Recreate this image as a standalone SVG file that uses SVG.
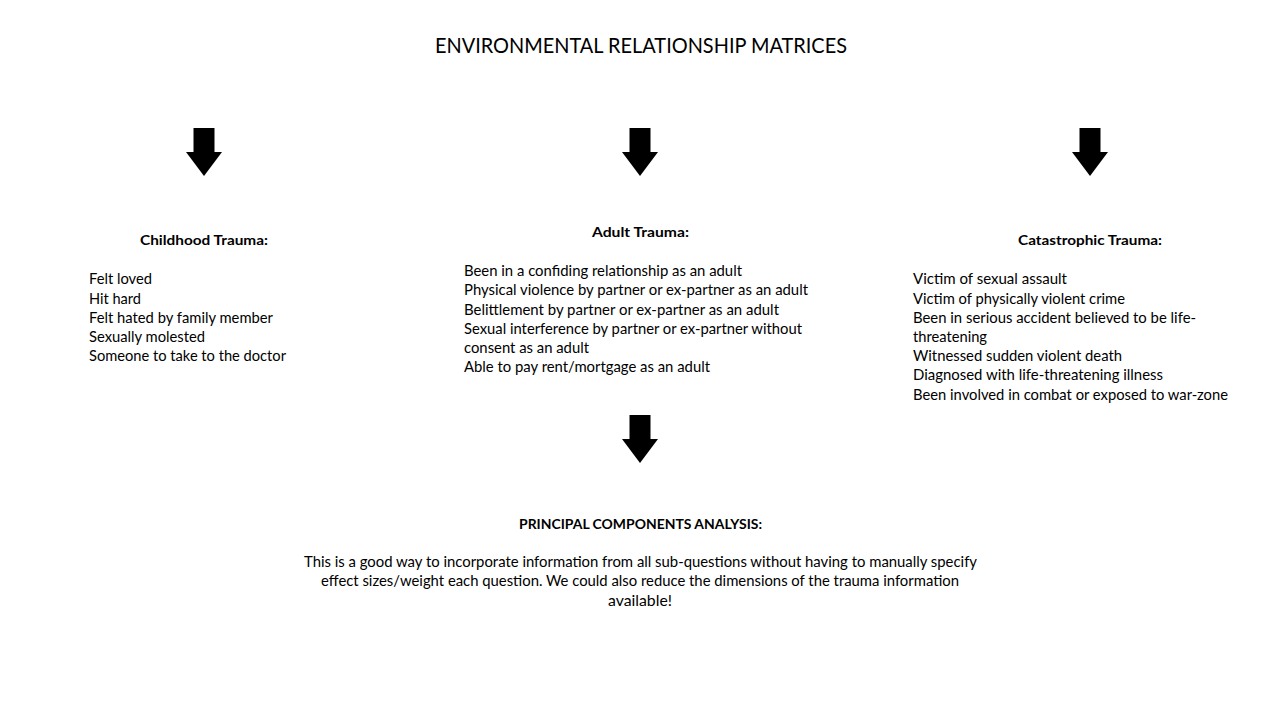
<svg xmlns="http://www.w3.org/2000/svg" xmlns:xlink="http://www.w3.org/1999/xlink" width="1280" height="720" viewBox="0 0 1280 720">
<style>
text{font-family:Lato,"Liberation Sans","DejaVu Sans",sans-serif;fill:#000}
.t{font-size:22px}
.h{font-size:14px;font-weight:bold}
.b{font-size:15px}
</style>
<defs>
<path id="arr" d="M-10.5,0 H10.5 V24 H18 L0,48 L-18,24 H-10.5 Z" fill="#000"/>
</defs>
<rect width="1280" height="720" fill="#fff"/>
<g id="title">
<text class="t" x="435" y="53" textLength="412" lengthAdjust="spacingAndGlyphs">ENVIRONMENTAL RELATIONSHIP MATRICES</text>
</g>
<g id="connectors">
<use xlink:href="#arr" x="204" y="128"/>
<use xlink:href="#arr" x="640" y="128"/>
<use xlink:href="#arr" x="1090" y="128"/>
<use xlink:href="#arr" x="640" y="415"/>
</g>
<g id="childhood">
<text class="h" x="140" y="245" textLength="128" lengthAdjust="spacingAndGlyphs">Childhood Trauma:</text>
<text class="b" x="89" y="284" textLength="63" lengthAdjust="spacingAndGlyphs">Felt loved</text>
<text class="b" x="89" y="304" textLength="52" lengthAdjust="spacingAndGlyphs">Hit hard</text>
<text class="b" x="89" y="323" textLength="184" lengthAdjust="spacingAndGlyphs">Felt hated by family member</text>
<text class="b" x="89" y="342" textLength="116" lengthAdjust="spacingAndGlyphs">Sexually molested</text>
<text class="b" x="89" y="361" textLength="197" lengthAdjust="spacingAndGlyphs">Someone to take to the doctor</text>
</g>
<g id="adult">
<text class="h" x="592" y="237" textLength="97" lengthAdjust="spacingAndGlyphs">Adult Trauma:</text>
<text class="b" x="464" y="276" textLength="278" lengthAdjust="spacingAndGlyphs">Been in a confiding relationship as an adult</text>
<text class="b" x="464" y="295" textLength="344" lengthAdjust="spacingAndGlyphs">Physical violence by partner or ex-partner as an adult</text>
<text class="b" x="464" y="314.5" textLength="315" lengthAdjust="spacingAndGlyphs">Belittlement by partner or ex-partner as an adult</text>
<text class="b" x="464" y="333.5" textLength="338" lengthAdjust="spacingAndGlyphs">Sexual interference by partner or ex-partner without</text>
<text class="b" x="464" y="353" textLength="125" lengthAdjust="spacingAndGlyphs">consent as an adult</text>
<text class="b" x="464" y="372" textLength="246" lengthAdjust="spacingAndGlyphs">Able to pay rent/mortgage as an adult</text>
</g>
<g id="catastrophic">
<text class="h" x="1018" y="245" textLength="144" lengthAdjust="spacingAndGlyphs">Catastrophic Trauma:</text>
<text class="b" x="913" y="284" textLength="154" lengthAdjust="spacingAndGlyphs">Victim of sexual assault</text>
<text class="b" x="913" y="303.5" textLength="212" lengthAdjust="spacingAndGlyphs">Victim of physically violent crime</text>
<text class="b" x="913" y="322.5" textLength="283" lengthAdjust="spacingAndGlyphs">Been in serious accident believed to be life-</text>
<text class="b" x="913" y="341.5" textLength="74" lengthAdjust="spacingAndGlyphs">threatening</text>
<text class="b" x="913" y="360.5" textLength="209" lengthAdjust="spacingAndGlyphs">Witnessed sudden violent death</text>
<text class="b" x="913" y="379.5" textLength="250" lengthAdjust="spacingAndGlyphs">Diagnosed with life-threatening illness</text>
<text class="b" x="913" y="399.5" textLength="315" lengthAdjust="spacingAndGlyphs">Been involved in combat or exposed to war-zone</text>
</g>
<g id="pca">
<text class="h" x="519" y="529" textLength="243" lengthAdjust="spacingAndGlyphs">PRINCIPAL COMPONENTS ANALYSIS:</text>
<text class="b" x="304" y="567" textLength="673" lengthAdjust="spacingAndGlyphs">This is a good way to incorporate information from all sub-questions without having to manually specify</text>
<text class="b" x="321" y="586" textLength="638" lengthAdjust="spacingAndGlyphs">effect sizes/weight each question. We could also reduce the dimensions of the trauma information</text>
<text class="b" x="608" y="605.5" textLength="64" lengthAdjust="spacingAndGlyphs">available!</text>
</g>
</svg>
